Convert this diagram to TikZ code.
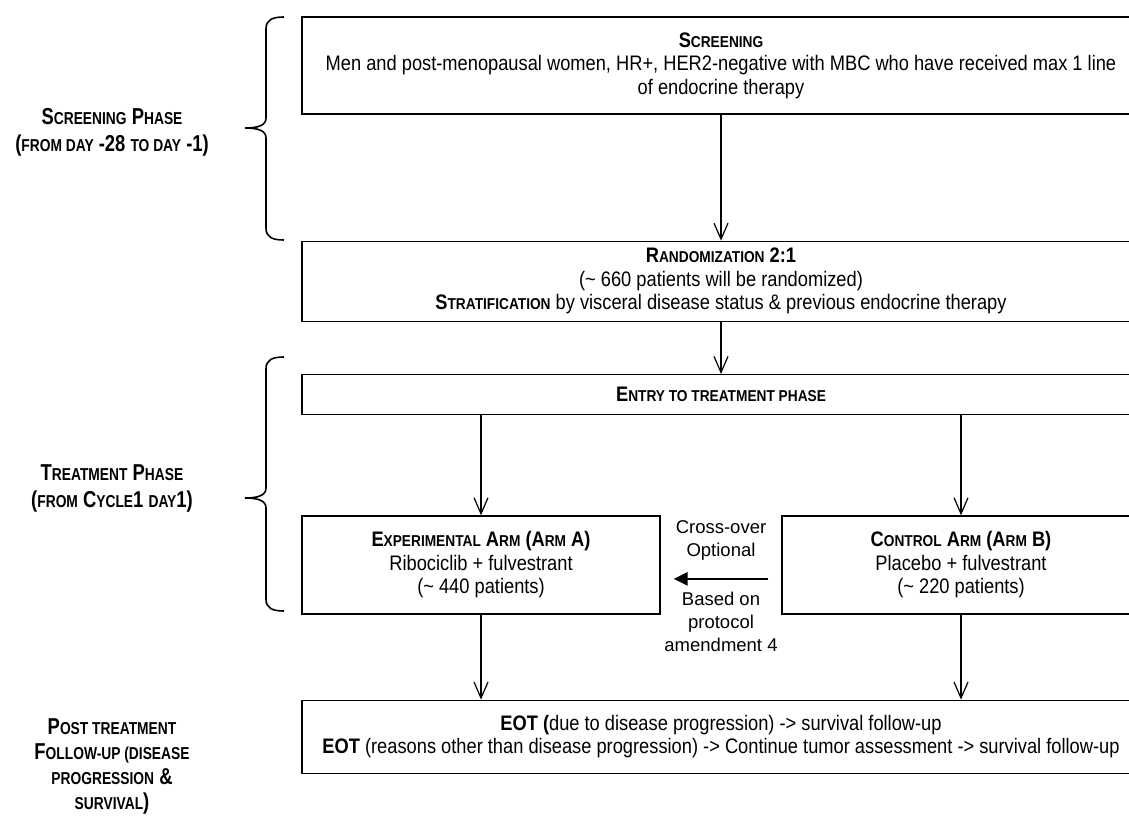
\documentclass[tikz,border=0pt]{standalone}
\usepackage{fontspec}
\setmainfont{Liberation Sans}[FakeStretch=0.87]
\newfontfamily\plainfont{Liberation Sans}
\newfontfamily\labelfont{Liberation Sans}[FakeStretch=0.8]
\usetikzlibrary{arrows.meta,positioning}

% smaller capitals for the fake small caps
\makeatletter
\newcommand\sm[1]{{\@tempdima=\f@size pt\@tempdima=0.75\@tempdima
  \fontsize{\strip@pt\@tempdima}{\f@baselineskip}\selectfont #1}}
\makeatother

\newcommand\phasebrace[3]{%
  \draw[brace] (284,#1) .. controls (272,#1) and (266,#1+3) .. (266,#1+12)
    -- (266,#2-10) .. controls (266,#2-3) and (259,#2) .. (245,#2)
    .. controls (259,#2) and (266,#2+3) .. (266,#2+10)
    -- (266,#3-12) .. controls (266,#3-3) and (272,#3) .. (284,#3);}

\begin{document}
\begin{tikzpicture}[x=1pt, y=-1pt,
    box/.style={draw, rectangle, line width=1.3pt, align=center, inner sep=0pt,
      minimum width=838pt, font=\fontsize{21}{23.5}\selectfont},
    armbox/.style={box, minimum width=358pt, minimum height=98pt},
    phase/.style={align=center, font=\labelfont\fontsize{23}{27}\selectfont\bfseries},
    note/.style={align=center, font=\plainfont\fontsize{18.5}{23}\selectfont},
    flow/.style={-{Straight Barb[length=16pt,width=14pt]}, line width=1.2pt},
    crossflow/.style={-{Triangle[length=14pt,width=13pt]}, line width=2.5pt},
    brace/.style={line width=1.6pt}]
    \useasboundingbox (0,0) rectangle (1129,818);

    \node[box, minimum height=97pt] (screen) at (721,65.5)
      {\textbf{S\sm{CREENING}}\\Men and post-menopausal women, HR+, HER2-negative with MBC who have received max 1 line\\of endocrine therapy};

    \node[box, minimum height=80pt, below=126pt of screen] (rand)
      {\textbf{R\sm{ANDOMIZATION} 2:1}\\(\textasciitilde{} 660 patients will be randomized)\\\textbf{S\sm{TRATIFICATION}} by visceral disease status \& previous endocrine therapy};

    \node[box, minimum height=40pt, below=52pt of rand] (entry)
      {\textbf{E\sm{NTRY TO TREATMENT PHASE}}};

    \node[armbox, below=100pt of entry.south west, anchor=north west] (armA)
      {\textbf{E\sm{XPERIMENTAL} A\sm{RM} (A\sm{RM} A)}\\Ribociclib + fulvestrant\\(\textasciitilde{} 440 patients)};

    \node[armbox, below=100pt of entry.south east, anchor=north east] (armB)
      {\textbf{C\sm{ONTROL} A\sm{RM} (A\sm{RM} B)}\\Placebo + fulvestrant\\(\textasciitilde{} 220 patients)};

    \node[box, minimum height=73pt, below=85pt of armA.south west, anchor=north west] (eot)
      {\textbf{EOT (}due to disease progression) -> survival follow-up\\\textbf{EOT} (reasons other than disease progression) -> Continue tumor assessment -> survival follow-up};

    \node[note] (crossup) at (721,540) {Cross-over\\Optional};
    \node[note] (crossdown) at (721,622) {Based on\\protocol\\amendment 4};

    \draw[flow] (screen) -- (rand);
    \draw[flow] (rand) -- (entry);
    \draw[flow] (entry.south -| armA) -- (armA);
    \draw[flow] (entry.south -| armB) -- (armB);
    \draw[flow] (armA) -- (armA |- eot.north);
    \draw[flow] (armB) -- (armB |- eot.north);
    \draw[crossflow] ([shift={(-13,14)}]armB.west) -- ([shift={(13,14)}]armA.east);

    % phase labels on the left
    \node[phase] (scrlabel) at (112,132) {S\sm{CREENING} P\sm{HASE}\\(\sm{FROM DAY} -28 \sm{TO DAY} -1)};
    \node[phase] (trtlabel) at (112,488) {T\sm{REATMENT} P\sm{HASE}\\(\sm{FROM} C\sm{YCLE}1 \sm{DAY}1)};
    \node[phase, font=\labelfont\fontsize{23}{25}\selectfont\bfseries] (postlabel) at (112,766)
      {P\sm{OST TREATMENT}\\F\sm{OLLOW-UP (DISEASE}\\\sm{PROGRESSION} \&\\\sm{SURVIVAL})};

    \phasebrace{17}{128}{240}
    \phasebrace{357}{498}{611}
\end{tikzpicture}
\end{document}
